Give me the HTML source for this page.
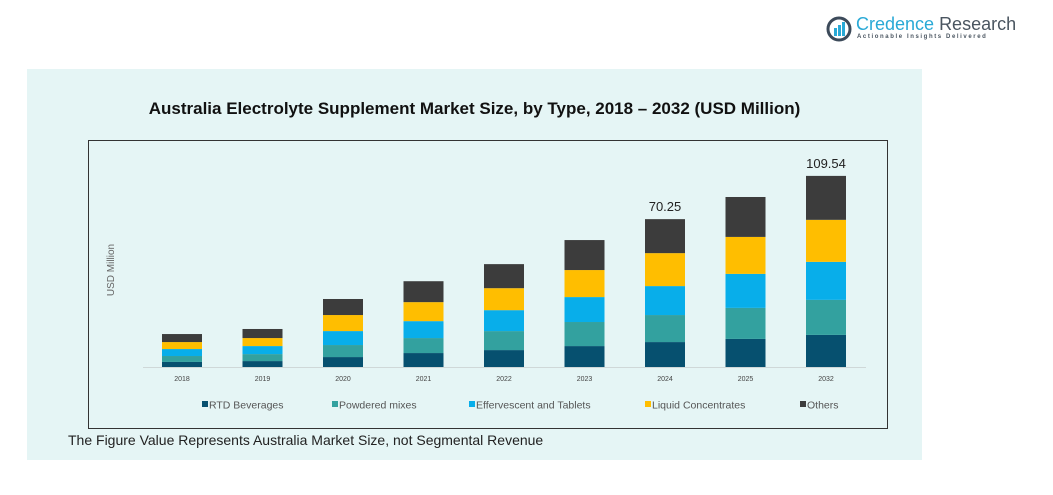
<!DOCTYPE html>
<html><head><meta charset="utf-8"><style>
body{margin:0;width:1053px;height:495px;background:#fff;font-family:"Liberation Sans",sans-serif;position:relative;overflow:hidden}
</style></head><body>
<div style="position:absolute;left:826px;top:14px;width:180px;height:30px">
<svg width="26" height="26" style="position:absolute;left:0;top:2px"><circle cx="13" cy="13" r="11" fill="none" stroke="#3c4a5a" stroke-width="3"/><rect x="8" y="12" width="3" height="8" fill="#29a9d6"/><rect x="12" y="9" width="3" height="11" fill="#29a9d6"/><rect x="16" y="6" width="3" height="14" fill="#29a9d6"/></svg>
<div style="position:absolute;left:30px;top:0;font-size:18px;color:#29a9d6;white-space:nowrap">Credence <span style="color:#4a5560">Research</span></div>
<div style="position:absolute;left:31px;top:20px;font-size:6px;letter-spacing:1.6px;color:#4a5560;font-weight:bold;white-space:nowrap">Actionable Insights Delivered</div>
</div>
<div style="position:absolute;left:27px;top:69px;width:895px;height:391px;background:#e5f5f5"></div>
<div style="position:absolute;left:27px;width:895px;top:99px;text-align:center;font-size:17px;font-weight:bold;color:#111">Australia Electrolyte Supplement Market Size, by Type, 2018 – 2032 (USD Million)</div>
<div style="position:absolute;left:88px;top:140px;width:800px;height:289px;border:1px solid #333;box-sizing:border-box"></div>
<svg id="chart" width="1053" height="495" style="position:absolute;left:0;top:0"></svg>
<div style="position:absolute;left:68px;top:432px;font-size:14px;color:#222">The Figure Value Represents Australia Market Size, not Segmental Revenue</div>
<script>
const categories=["2018","2019","2020","2021","2022","2023","2024","2025","2032"];
const seriesNames=["RTD Beverages","Powdered mixes","Effervescent and Tablets","Liquid Concentrates","Others"];
const rtd=[2.9,3.4,5.7,8.0,9.7,12.0,14.3,16.1,18.4];
const powdered=[3.4,4.0,6.9,8.6,10.9,13.8,15.5,17.8,20.1];
const effervescent=[4.0,4.6,8.0,9.7,12.0,14.3,16.6,19.5,21.8];
const liquid=[4.0,4.6,9.2,10.9,12.6,15.5,18.9,21.2,24.1];
const others=[4.6,5.2,9.2,12.0,13.8,17.2,19.5,22.9,25.2];
const labelValues=[null,null,null,null,null,null,"70.25",null,"109.54"];
const colors=["#06506f","#33a19f","#08aeea","#ffbe00","#3c3c3c"];
const series=[rtd,powdered,effervescent,liquid,others];
const NS="http://www.w3.org/2000/svg";
const svg=document.getElementById("chart");
const base=367,x0=142,step=80.5,bw=40,scale=191/109.54;
const xc=i=>x0+40+i*step;
const y=v=>base-v*scale;
function mk(t,a){const e=document.createElementNS(NS,t);for(const k in a)e.setAttribute(k,a[k]);svg.appendChild(e);return e;}
const ax=mk("line",{x1:143,x2:866,y1:base+0.5,y2:base+0.5,stroke:"#cfd8d8","stroke-width":1});


const yt=mk("text",{x:0,y:0,transform:"translate(114,270) rotate(-90)","text-anchor":"middle","font-size":10,fill:"#666","font-family":"Liberation Sans"});
yt.textContent="USD Million";


categories.forEach((c,i)=>{
  let cum=0;
  series.forEach((s,j)=>{
    const r=mk("rect",{x:xc(i)-bw/2,y:y(cum+s[i]),width:bw,height:s[i]*scale,fill:colors[j]});
    
    
    cum+=s[i];
  });
  const t=mk("text",{x:xc(i),y:base+14,"text-anchor":"middle","font-size":7,fill:"#444","font-family":"Liberation Sans"});
  t.textContent=c;
  
  
  if(labelValues[i]){
    const l=mk("text",{x:xc(i),y:y(cum)-8,"text-anchor":"middle","font-size":13,fill:"#222","font-family":"Liberation Sans"});
    l.textContent=labelValues[i];
    
    
  }
});
const lx=[202,332,469,645,800];
seriesNames.forEach((n,j)=>{
  const r=mk("rect",{x:lx[j],y:401,width:6,height:6,fill:colors[j]});
  
  
  const t=mk("text",{x:lx[j]+7,y:408.5,"font-size":10.5,fill:"#555","font-family":"Liberation Sans"});
  t.textContent=n;
  
  
});
</script>
</body></html>
